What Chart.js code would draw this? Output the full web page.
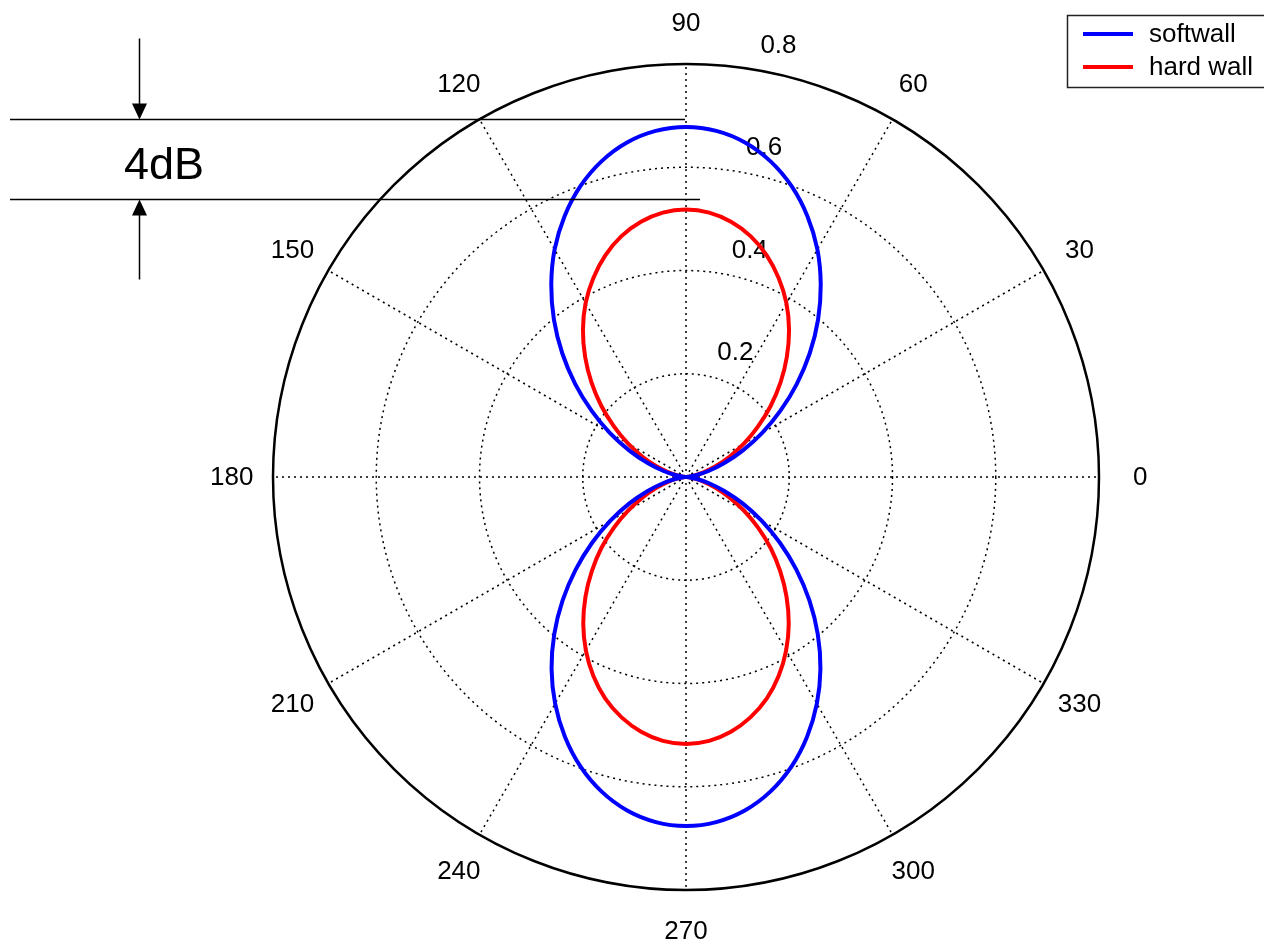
<!DOCTYPE html>
<html>
<head>
<meta charset="utf-8">
<title>softwall / hard wall directivity</title>
<script src="https://cdn.jsdelivr.net/npm/chart.js@4.4.1/dist/chart.umd.min.js"></script>
<style>
  html, body { margin: 0; padding: 0; background: #ffffff; }
  #wrap { position: relative; width: 1264px; height: 944px; }
</style>
</head>
<body>
<div id="wrap"><canvas id="polar"></canvas></div>
<script>
// Polar angle of each sample, degrees, counter-clockwise from the 0° axis
const angles = [
  0, 5, 10, 15, 20, 25, 30, 35, 40, 45, 50, 55, 60, 65, 70, 75, 80, 85,
  90, 95, 100, 105, 110, 115, 120, 125, 130, 135, 140, 145, 150, 155, 160, 165, 170, 175,
  180, 185, 190, 195, 200, 205, 210, 215, 220, 225, 230, 235, 240, 245, 250, 255, 260, 265,
  270, 275, 280, 285, 290, 295, 300, 305, 310, 315, 320, 325, 330, 335, 340, 345, 350, 355
];

// Radiated amplitude, soft wall
const softwall = [
  0.000, 0.005, 0.020, 0.045, 0.079, 0.121, 0.170, 0.223, 0.280, 0.339, 0.398, 0.455, 0.509, 0.557, 0.599, 0.633, 0.658, 0.673,
  0.678, 0.673, 0.658, 0.633, 0.599, 0.557, 0.509, 0.455, 0.398, 0.339, 0.280, 0.223, 0.170, 0.121, 0.079, 0.045, 0.020, 0.005,
  0.000, 0.005, 0.020, 0.045, 0.079, 0.121, 0.169, 0.222, 0.279, 0.338, 0.397, 0.454, 0.507, 0.555, 0.597, 0.631, 0.656, 0.671,
  0.676, 0.671, 0.656, 0.631, 0.597, 0.555, 0.507, 0.454, 0.397, 0.338, 0.279, 0.222, 0.169, 0.121, 0.079, 0.045, 0.020, 0.005
];

// Radiated amplitude, hard wall
const hardWall = [
  0.000, 0.004, 0.016, 0.035, 0.061, 0.093, 0.130, 0.170, 0.214, 0.259, 0.304, 0.348, 0.389, 0.425, 0.457, 0.483, 0.502, 0.514,
  0.518, 0.514, 0.502, 0.483, 0.457, 0.425, 0.389, 0.348, 0.304, 0.259, 0.214, 0.170, 0.130, 0.093, 0.061, 0.035, 0.016, 0.004,
  0.000, 0.004, 0.016, 0.035, 0.060, 0.092, 0.129, 0.170, 0.214, 0.258, 0.303, 0.347, 0.388, 0.425, 0.457, 0.482, 0.501, 0.513,
  0.517, 0.513, 0.501, 0.482, 0.457, 0.425, 0.388, 0.347, 0.303, 0.258, 0.214, 0.170, 0.129, 0.092, 0.060, 0.035, 0.016, 0.004
];

const seriesNames = ['softwall', 'hard wall'];
const seriesColors = ['#0000ff', '#ff0000'];

// Labelled spokes (degrees) and radial rings
const angleTicks = [0, 30, 60, 90, 120, 150, 180, 210, 240, 270, 300, 330];
const radialTicks = [0.2, 0.4, 0.6, 0.8];

// Level bracket on the left: two radial levels and their caption
const levelMarks = [0.693, 0.538];
const levelText = '4dB';

// ---------------------------------------------------------------------------
// The radar scale runs clockwise from the top, so reorder the samples:
// slot i sits at (90 - 5 i) degrees.
const step = 360 / angles.length;
const slotAngles = angles.map((_, i) => ((90 - i * step) % 360 + 360) % 360);
const slotIndex = slotAngles.map(a => angles.indexOf(a));
const orderedLabels = slotAngles.map(a => String(a));
const orderedSoft = slotIndex.map(k => softwall[k]);
const orderedHard = slotIndex.map(k => hardWall[k]);
const rMax = radialTicks[radialTicks.length - 1];

const FONT_FAMILY = '"Liberation Sans", Arial, Helvetica, sans-serif';
const LABEL_SIZE = 26;
Chart.defaults.font.family = FONT_FAMILY;
Chart.defaults.color = '#000000';

const isLabelled = label => angleTicks.includes(Number(label));

// Angle labels centred at 1.1 x the outer radius, radius labels along the 82° ray
const polarLabels = {
  id: 'polarLabels',
  beforeDatasetsDraw(chart) {
    const s = chart.scales.r;
    const c = chart.ctx;
    const outer = s.getDistanceFromCenterForValue(rMax);
    c.save();
    c.font = LABEL_SIZE + 'px ' + FONT_FAMILY;
    c.fillStyle = '#000';
    c.textAlign = 'center';
    c.textBaseline = 'middle';
    chart.data.labels.forEach((label, i) => {
      if (!isLabelled(label)) return;
      const p = s.getPointPosition(i, outer * 1.1);
      c.fillText(label, p.x, p.y + 1);
    });
    const phi = 82 * Math.PI / 180;
    radialTicks.forEach(v => {
      const d = s.getDistanceFromCenterForValue(v);
      const x = s.xCenter + d * Math.cos(phi) + 35;
      const y = s.yCenter - d * Math.sin(phi) - 22;
      c.fillText(v.toFixed(1), x, y);
    });
    c.restore();
  }
};

const levelBracket = {
  id: 'levelBracket',
  afterDraw(chart) {
    const s = chart.scales.r;
    const c = chart.ctx;
    const yTop = Math.round(s.yCenter - s.getDistanceFromCenterForValue(levelMarks[0])) + 0.5;
    const yBot = Math.round(s.yCenter - s.getDistanceFromCenterForValue(levelMarks[1])) + 0.5;
    const ax = 139.5;
    c.save();
    c.strokeStyle = '#000';
    c.fillStyle = '#000';
    c.lineWidth = 1.5;
    c.beginPath();
    c.moveTo(10, yTop); c.lineTo(s.xCenter - 1, yTop);
    c.moveTo(10, yBot); c.lineTo(s.xCenter + 14, yBot);
    c.moveTo(ax, yTop - 81); c.lineTo(ax, yTop - 14);
    c.moveTo(ax, yBot + 80); c.lineTo(ax, yBot + 14);
    c.stroke();
    c.beginPath();
    c.moveTo(ax, yTop); c.lineTo(ax - 7.5, yTop - 16); c.lineTo(ax + 7.5, yTop - 16); c.closePath();
    c.moveTo(ax, yBot); c.lineTo(ax - 7.5, yBot + 16); c.lineTo(ax + 7.5, yBot + 16); c.closePath();
    c.fill();
    c.font = '45px ' + FONT_FAMILY;
    c.textAlign = 'center';
    c.textBaseline = 'alphabetic';
    c.fillText(levelText, 164, (yTop + yBot) / 2 + 19);
    c.restore();
  }
};

const boxedLegend = {
  id: 'boxedLegend',
  afterDraw(chart) {
    const c = chart.ctx;
    const left = 1067.5, top = 15.5;
    c.save();
    c.fillStyle = '#ffffff';
    c.fillRect(left, top, 220, 72);
    c.strokeStyle = '#222';
    c.lineWidth = 1.5;
    c.strokeRect(left, top, 220, 72);
    c.font = '26px ' + FONT_FAMILY;
    c.textAlign = 'left';
    c.textBaseline = 'middle';
    chart.data.datasets.forEach((ds, i) => {
      const y = 34 + i * 33;
      c.strokeStyle = ds.borderColor;
      c.lineWidth = 4;
      c.beginPath();
      c.moveTo(1083, y); c.lineTo(1133, y);
      c.stroke();
      c.fillStyle = '#000';
      c.fillText(ds.label, 1149, y + 1);
    });
    c.restore();
  }
};

new Chart(document.getElementById('polar'), {
  type: 'radar',
  data: {
    labels: orderedLabels,
    datasets: [
      { label: seriesNames[0], data: orderedSoft, borderColor: seriesColors[0] },
      { label: seriesNames[1], data: orderedHard, borderColor: seriesColors[1] }
    ]
  },
  options: {
    responsive: true,
    maintainAspectRatio: false,
    animation: false,
    layout: { padding: { left: 108, right: 0, top: 64, bottom: 54 } },
    elements: {
      line: { borderWidth: 4, tension: 0.35, fill: false },
      point: { radius: 0, hoverRadius: 0 }
    },
    plugins: {
      legend: { display: false },
      tooltip: { enabled: false }
    },
    scales: {
      r: {
        min: 0,
        max: rMax,
        startAngle: 0,
        ticks: { stepSize: radialTicks[0], display: false },
        grid: {
          circular: true,
          color: '#000',
          lineWidth: ctx => (ctx.tick && ctx.tick.value >= rMax - 1e-9) ? 2.5 : 1.5
        },
        border: {
          dash: ctx => (ctx.tick && ctx.tick.value >= rMax - 1e-9) ? [] : [2, 4]
        },
        angleLines: {
          display: true,
          color: '#000',
          lineWidth: ctx => (isLabelled(ctx.label) ? 1.5 : 0),
          borderDash: [2, 4]
        },
        pointLabels: { display: false }
      }
    }
  },
  plugins: [polarLabels, levelBracket, boxedLegend]
});
</script>
</body>
</html>
